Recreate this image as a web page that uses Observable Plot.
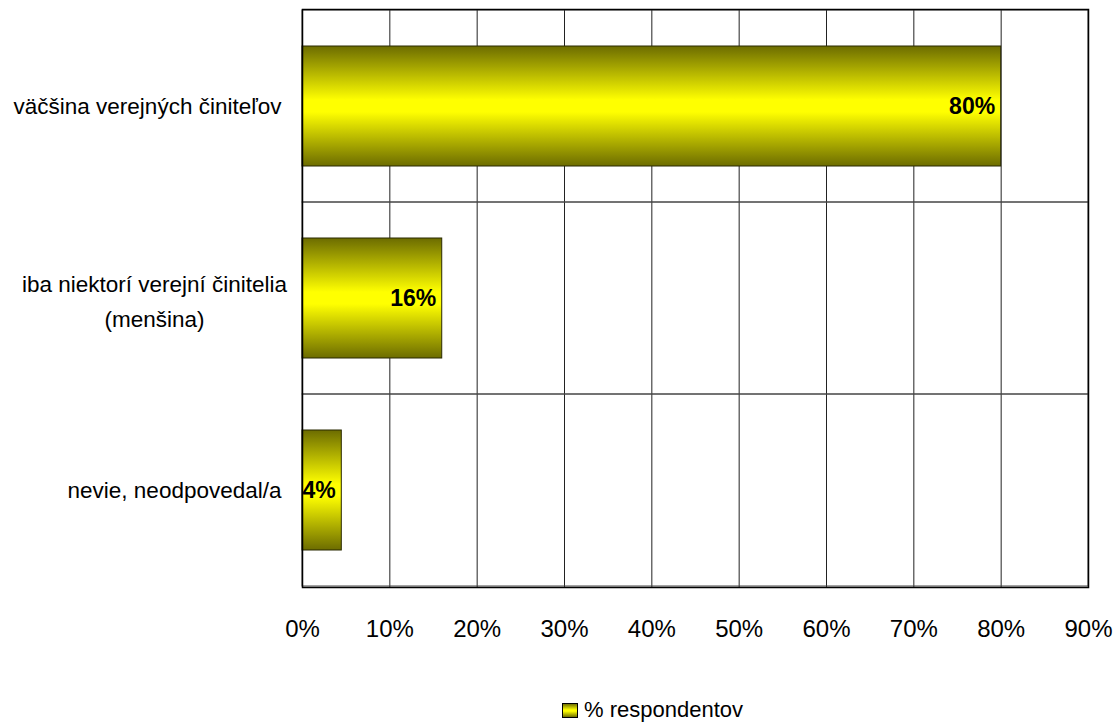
<!DOCTYPE html>
<html>
<head>
<meta charset="utf-8">
<script src="https://cdn.jsdelivr.net/npm/d3@7"></script>
<script src="https://cdn.jsdelivr.net/npm/@observablehq/plot@0.6"></script>
<style>
  html, body { margin: 0; padding: 0; background: #fff; }
  body { width: 1120px; height: 724px; overflow: hidden; font-family: "Liberation Sans", Arial, sans-serif; }
  #chart svg { display: block; }
  #legend { margin-top: 38px; padding-left: 562px; font-size: 22px; line-height: 24px; color: #000; display: flex; align-items: center; }
  #legend .sw { width: 14px; height: 13px; border: 1px solid #000; margin-right: 6px;
    background: linear-gradient(to bottom, #707000 0%, #ffff00 45%, #ffff00 55%, #707000 100%); }
</style>
</head>
<body>
<div id="chart"></div>
<div id="legend"><span class="sw"></span><span>% respondentov</span></div>
<script>
const categories = ["väčšina verejných činiteľov", "iba niektorí verejní činitelia\n(menšina)", "nevie, neodpovedal/a"];
const values = [80, 16, 4.5];
const valueLabels = ["80%", "16%", "4%"];
const xTicks = [0, 10, 20, 30, 40, 50, 60, 70, 80, 90];
const seriesName = "% respondentov";

const data = categories.map((c, i) => ({category: c, value: values[i], label: valueLabels[i]}));

const chart = Plot.plot({
  width: 1120,
  height: 660,
  marginLeft: 302,
  marginRight: 32,
  marginTop: 9,
  marginBottom: 73,
  style: {fontFamily: "'Liberation Sans', Arial, sans-serif", fontSize: "22px", color: "#000", background: "#fff"},
  x: {domain: [0, 90], ticks: xTicks, tickFormat: d => d + "%"},
  y: {domain: categories, padding: 0, axis: null},
  marks: [
    Plot.ruleX(xTicks, {stroke: "#222", strokeWidth: 1}),
    Plot.barX(categories, {y: d => d, x1: 0, x2: 90, fill: "none", stroke: "#444", strokeWidth: 1}),
    Plot.barX(data, {y: "category", x: "value", fill: "url(#barGrad)", stroke: "#2a2a00", strokeWidth: 1, insetTop: 36, insetBottom: 36}),
    Plot.text(data, {y: "category", x: "value", text: "label", textAnchor: "end", dx: -6, fontWeight: "bold", fontSize: 23, fill: "#000"}),
    Plot.axisX(xTicks, {tickSize: 0, tickPadding: 32, fontSize: 24, label: null, tickFormat: d => d + "%"}),
    Plot.text(categories.filter(c => !c.includes("\n")), {y: d => d, frameAnchor: "left", textAnchor: "end", dx: -21, fontSize: 22.5, fill: "#000"}),
    Plot.text(categories.filter(c => c.includes("\n")), {y: d => d, frameAnchor: "left", textAnchor: "middle", dx: -148, lineHeight: 1.55, fontSize: 22.5, fill: "#000"}),
    Plot.frame({stroke: "#000", strokeWidth: 1.5})
  ]
});

const defs = d3.select(chart).insert("defs", ":first-child");
const g = defs.append("linearGradient").attr("id", "barGrad").attr("x1", 0).attr("y1", 0).attr("x2", 0).attr("y2", 1);
g.append("stop").attr("offset", "0%").attr("stop-color", "#6c6c00");
g.append("stop").attr("offset", "45%").attr("stop-color", "#ffff00");
g.append("stop").attr("offset", "55%").attr("stop-color", "#ffff00");
g.append("stop").attr("offset", "100%").attr("stop-color", "#6c6c00");

document.getElementById("chart").appendChild(chart);
</script>
</body>
</html>
